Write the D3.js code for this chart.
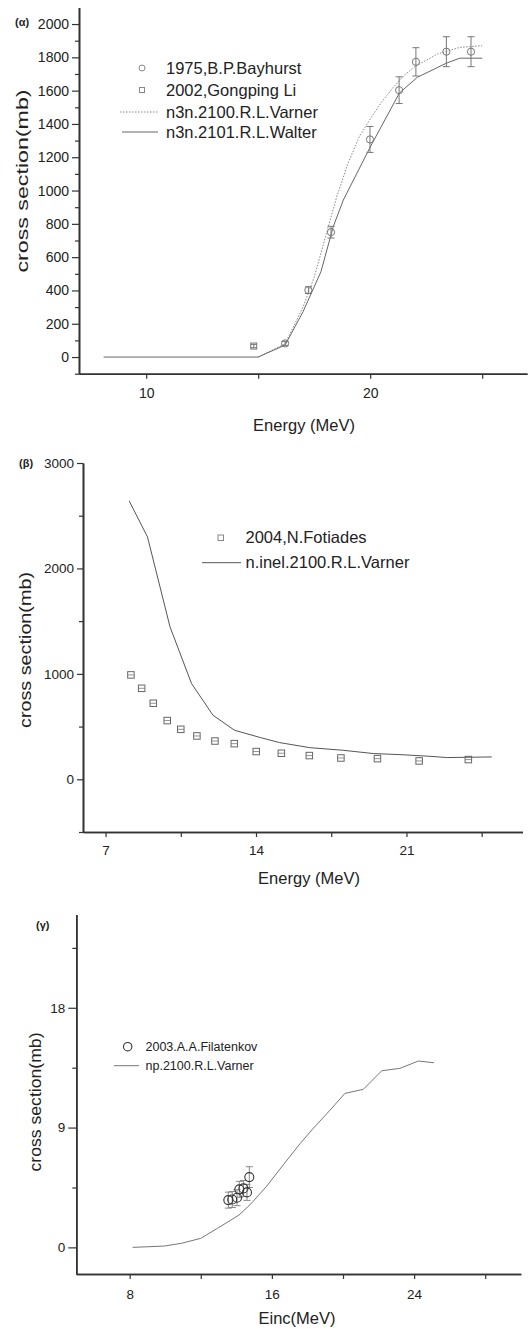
<!DOCTYPE html>
<html><head><meta charset="utf-8">
<script src="https://cdn.jsdelivr.net/npm/d3@7"></script>
<style>
body{margin:0;background:#fff;}
svg{display:block;font-family:"Liberation Sans",Arial,sans-serif;}
</style></head>
<body><svg id="c" width="528" height="1329"></svg>
<script>
// ---------- Panel (α) data ----------
const aWalterE = [8.1, 15.0, 16.2, 17.0, 17.8, 18.35, 18.8, 20.0, 21.3, 22.1, 23.4, 24.0, 25.0];
const aWalterV = [0, 0, 72, 272, 512, 783, 943, 1261, 1585, 1680, 1765, 1795, 1795];
const aVarnerE = [15.0, 16.2, 17.0, 17.5, 18.0, 18.5, 19.0, 19.5, 20.0, 20.5, 21.0, 21.5, 22.0, 23.0, 24.0, 25.0];
const aVarnerV = [0, 80, 300, 480, 720, 960, 1160, 1320, 1430, 1530, 1615, 1690, 1745, 1820, 1860, 1870];
const aBayE = [16.2, 17.24, 18.25, 19.99, 21.29, 22.04, 23.4, 24.5];
const aBayV = [82, 402, 750, 1307, 1603, 1773, 1834, 1834];
const aBayErr = [12, 20, 35, 78, 80, 85, 90, 90];
const aLiE = [14.8];
const aLiV = [66];
const aLiErr = [10];
const aXTicks = [10, 20];
const aXMinor = [15, 25];
const aYTicks = [0, 200, 400, 600, 800, 1000, 1200, 1400, 1600, 1800, 2000];
const aYMinor = [-100, 100, 300, 500, 700, 900, 1100, 1300, 1500, 1700, 1900];
const aLegend = ["1975,B.P.Bayhurst", "2002,Gongping Li", "n3n.2100.R.L.Varner", "n3n.2101.R.L.Walter"];

// ---------- Panel (β) data ----------
const bVarnerE = [8.1, 8.95, 10.0, 11.0, 12.0, 13.0, 14.2, 15.1, 16.5, 18.06, 19.46, 20.7, 22.1, 22.9, 24.97];
const bVarnerV = [2640, 2299, 1445, 908, 607, 465, 396, 348, 300, 275, 244, 234, 218, 206, 212];
const bFotE = [8.18, 8.68, 9.22, 9.87, 10.5, 11.25, 12.09, 12.99, 14.01, 15.18, 16.48, 17.95, 19.65, 21.59, 23.88];
const bFotV = [990, 863, 721, 557, 474, 411, 363, 338, 263, 247, 225, 202, 196, 174, 187];
const bXTicks = [7, 14, 21];
const bXMinor = [10.5, 17.5, 24.5];
const bYTicks = [0, 1000, 2000, 3000];
const bYMinor = [-500, 500, 1500, 2500];
const bLegend = ["2004,N.Fotiades", "n.inel.2100.R.L.Varner"];

// ---------- Panel (γ) data ----------
const gVarnerE = [8.17, 9.95, 10.9, 12.0, 12.94, 14.15, 14.77, 15.71, 16.64, 17.59, 18.3, 19.27, 20.11, 21.14, 22.18, 23.2, 24.24, 25.12];
const gVarnerV = [0, 0.1, 0.3, 0.68, 1.43, 2.43, 3.2, 4.6, 6.2, 7.8, 8.9, 10.31, 11.57, 11.87, 13.27, 13.45, 14.0, 13.87];
const gFilE = [13.55, 13.77, 14.04, 14.17, 14.40, 14.60, 14.73];
const gFilV = [3.55, 3.6, 3.73, 4.36, 4.43, 4.13, 5.28];
const gFilErr = [0.6, 0.6, 0.6, 0.6, 0.6, 0.6, 0.78];
const gXTicks = [8, 16, 24];
const gXMinor = [12, 20, 28];
const gYTicks = [0, 9, 18];
const gYMinor = [4.5, 13.5, 22.5];
const gLegend = ["2003.A.A.Filatenkov", "np.2100.R.L.Varner"];

const svg = d3.select("#c");
const AX = "#333";

function panel(o) {
  const g = svg.append("g");
  const x = d3.scaleLinear().domain(o.xd).range(o.xr);
  const y = d3.scaleLinear().domain(o.yd).range(o.yr);
  // axes
  const ya = g.append("g").attr("transform", `translate(${o.xr[0]},0)`)
    .call(d3.axisLeft(y).tickValues(o.yt).tickSize(o.tl).tickSizeOuter(0).tickPadding(3).tickFormat(d3.format("d")));
  g.append("g").attr("transform", `translate(${o.xr[0]},0)`)
    .call(d3.axisLeft(y).tickValues(o.ym).tickSize(4).tickSizeOuter(0).tickFormat(""));
  const xa = g.append("g").attr("transform", `translate(0,${o.yr[0]})`)
    .call(d3.axisBottom(x).tickValues(o.xt).tickSize(5).tickSizeOuter(0).tickPadding(o.xpad).tickFormat(d3.format("d")));
  g.append("g").attr("transform", `translate(0,${o.yr[0]})`)
    .call(d3.axisBottom(x).tickValues(o.xm).tickSize(5).tickSizeOuter(0).tickFormat(""));
  g.selectAll(".domain").attr("stroke", AX).attr("stroke-width", 1.6);
  g.selectAll(".tick line").attr("stroke", AX).attr("stroke-width", 1.2);
  g.selectAll(".tick text").attr("fill", "#222").style("font-size", o.fs + "px").style("font-family", "Liberation Sans, Arial, sans-serif");
  // labels
  g.append("text").attr("x", o.lab[0]).attr("y", o.lab[1]).attr("dy", "0.35em")
    .style("font-size", "11px").style("font-weight", "bold").attr("fill", "#222").text(o.label);
  g.append("text").attr("x", o.xt2[0]).attr("y", o.xt2[1]).attr("dy", "0.35em").attr("text-anchor", "middle")
    .style("font-size", o.xts + "px").attr("fill", "#222").text(o.xtitle);
  g.append("text").attr("transform", `translate(${o.yt2[0]},${o.yt2[1]}) rotate(-90)`).attr("dy", "0.35em")
    .attr("text-anchor", "middle").style("font-size", "17px").attr("fill", "#222")
    .attr("textLength", o.yt2[2]).attr("lengthAdjust", "spacingAndGlyphs").text("cross section(mb)");
  return {g, x, y};
}

function drawLine(p, E, V, color, dash, w) {
  const line = d3.line().x(d => p.x(d[0])).y(d => p.y(d[1]));
  p.g.append("path").datum(d3.zip(E, V)).attr("d", line).attr("fill", "none")
    .attr("stroke", color).attr("stroke-width", w || 1).attr("stroke-dasharray", dash || null);
}
function errBars(p, E, V, Er, color, cap) {
  const d = d3.zip(E, V, Er);
  const gg = p.g.append("g").attr("stroke", color).attr("stroke-width", 1);
  gg.selectAll("line.v").data(d).join("line").attr("x1", d => p.x(d[0])).attr("x2", d => p.x(d[0]))
    .attr("y1", d => p.y(d[1] - d[2])).attr("y2", d => p.y(d[1] + d[2]));
  gg.selectAll("line.t").data(d).join("line").attr("x1", d => p.x(d[0]) - cap).attr("x2", d => p.x(d[0]) + cap)
    .attr("y1", d => p.y(d[1] + d[2])).attr("y2", d => p.y(d[1] + d[2]));
  gg.selectAll("line.b").data(d).join("line").attr("x1", d => p.x(d[0]) - cap).attr("x2", d => p.x(d[0]) + cap)
    .attr("y1", d => p.y(d[1] - d[2])).attr("y2", d => p.y(d[1] - d[2]));
}
function circles(p, E, V, r, color, sw) {
  p.g.append("g").selectAll("circle").data(d3.zip(E, V)).join("circle")
    .attr("cx", d => p.x(d[0])).attr("cy", d => p.y(d[1])).attr("r", r)
    .attr("fill", "none").attr("stroke", color).attr("stroke-width", sw || 1);
}
function squares(p, E, V, s, color) {
  p.g.append("g").selectAll("rect").data(d3.zip(E, V)).join("rect")
    .attr("x", d => p.x(d[0]) - s / 2).attr("y", d => p.y(d[1]) - s / 2).attr("width", s).attr("height", s)
    .attr("fill", "none").attr("stroke", color).attr("stroke-width", 1);
}

// ---------- (α) ----------
const pa = panel({xd: [7, 27], xr: [79, 527], yd: [-100, 2100], yr: [373.7, 7.4],
  yt: aYTicks, ym: aYMinor, xt: aXTicks, xm: aXMinor, tl: 7, fs: 14, xpad: 9,
  label: "(α)", lab: [15, 22], xtitle: "Energy (MeV)", xt2: [304, 425], xts: 16.5, yt2: [22, 181, 183]});
drawLine(pa, aVarnerE, aVarnerV, "#888", "1.5,1.5", 1);
drawLine(pa, aWalterE, aWalterV, "#666", null, 1);
errBars(pa, aBayE, aBayV, aBayErr, "#777", 3.5);
errBars(pa, aLiE, aLiV, aLiErr, "#777", 3);
circles(pa, aBayE, aBayV, 3.6, "#777", 1);
squares(pa, aLiE, aLiV, 6, "#777");
// legend α
{
  const lg = pa.g.append("g");
  const ys = [68, 90, 112, 132];
  lg.append("circle").attr("cx", 142).attr("cy", ys[0]).attr("r", 3).attr("fill", "none").attr("stroke", "#888");
  lg.append("rect").attr("x", 139.5).attr("y", ys[1] - 2.5).attr("width", 5).attr("height", 5).attr("fill", "none").attr("stroke", "#888");
  lg.append("line").attr("x1", 120).attr("x2", 158).attr("y1", ys[2]).attr("y2", ys[2]).attr("stroke", "#888").attr("stroke-dasharray", "1.5,1.5");
  lg.append("line").attr("x1", 122).attr("x2", 158).attr("y1", ys[3]).attr("y2", ys[3]).attr("stroke", "#666");
  lg.selectAll("text").data(aLegend).join("text").attr("x", 166).attr("y", (d, i) => ys[i]).attr("dy", "0.35em")
    .style("font-size", "16.5px").attr("fill", "#222").text(d => d);
}

// ---------- (β) ----------
const pb = panel({xd: [5.95, 26.4], xr: [83, 522.5], yd: [-500, 3000], yr: [832, 463],
  yt: bYTicks, ym: bYMinor, xt: bXTicks, xm: bXMinor, tl: 6, fs: 13.5, xpad: 8,
  label: "(β)", lab: [19, 463], xtitle: "Energy (MeV)", xt2: [309, 878], xts: 16.5, yt2: [25, 650, 156]});
drawLine(pb, bVarnerE, bVarnerV, "#555", null, 1);
squares(pb, bFotE, bFotV, 6.5, "#666");
pb.g.append("g").selectAll("line").data(d3.zip(bFotE, bFotV)).join("line")
  .attr("x1", d => pb.x(d[0]) - 3.2).attr("x2", d => pb.x(d[0]) + 3.2)
  .attr("y1", d => pb.y(d[1])).attr("y2", d => pb.y(d[1])).attr("stroke", "#777").attr("stroke-width", 0.8);
{
  const lg = pb.g.append("g");
  lg.append("rect").attr("x", 218).attr("y", 535).attr("width", 5.5).attr("height", 5.5).attr("fill", "none").attr("stroke", "#888");
  lg.append("line").attr("x1", 202).attr("x2", 241).attr("y1", 562.7).attr("y2", 562.7).attr("stroke", "#555");
  lg.selectAll("text").data(bLegend).join("text").attr("x", 245.5).attr("y", (d, i) => [537.7, 562.7][i]).attr("dy", "0.35em")
    .style("font-size", "16.5px").attr("fill", "#222").text(d => d);
}

// ---------- (γ) ----------
const pg = panel({xd: [5, 30], xr: [76.3, 520.8], yd: [-2, 25], yr: [1274, 914.6],
  yt: gYTicks, ym: gYMinor, xt: gXTicks, xm: gXMinor, tl: 8, fs: 13.5, xpad: 10,
  label: "(γ)", lab: [36, 925], xtitle: "Einc(MeV)", xt2: [297, 1318], xts: 16.5, yt2: [35, 1102, 139]});
drawLine(pg, gVarnerE, gVarnerV, "#777", null, 1);
errBars(pg, gFilE, gFilV, gFilErr, "#888", 3.5);
circles(pg, gFilE, gFilV, 4.5, "#333", 1.1);
{
  const lg = pg.g.append("g");
  lg.append("circle").attr("cx", 127.7).attr("cy", 1046.7).attr("r", 4.2).attr("fill", "none").attr("stroke", "#333").attr("stroke-width", 1.1);
  lg.append("line").attr("x1", 114).attr("x2", 139).attr("y1", 1065.7).attr("y2", 1065.7).attr("stroke", "#777");
  lg.selectAll("text").data(gLegend).join("text").attr("x", 145.5).attr("y", (d, i) => [1046.7, 1065.7][i]).attr("dy", "0.35em")
    .style("font-size", "12.5px").attr("fill", "#222").text(d => d);
}
</script></body></html>
